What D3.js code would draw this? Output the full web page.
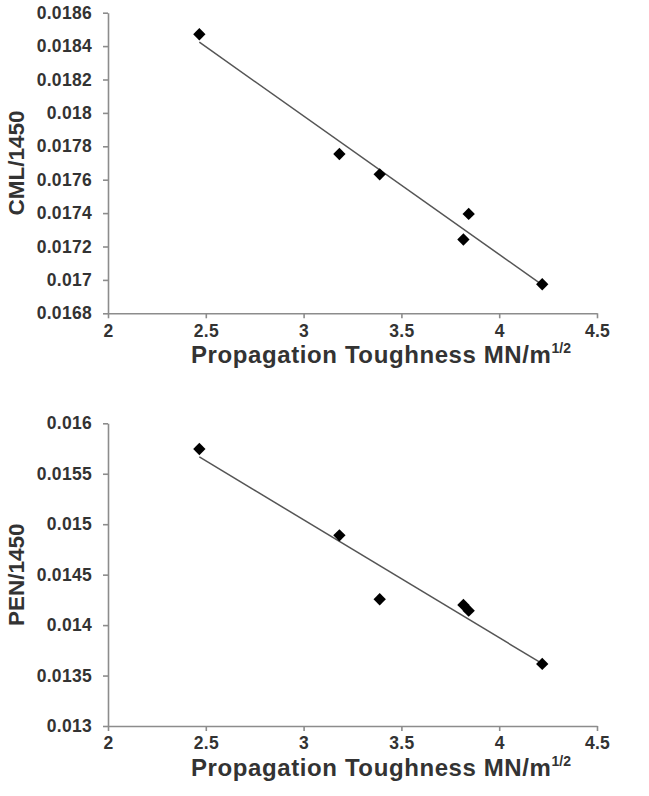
<!DOCTYPE html>
<html><head><meta charset="utf-8">
<script src="https://cdn.jsdelivr.net/npm/d3@7"></script>
<style>html,body{margin:0;padding:0;background:#fff;}svg{display:block;}</style>
</head><body>
<svg id="c" width="649" height="796"></svg>
<script>
const toughness = [2.467, 3.183, 3.389, 3.844, 3.817, 4.220];
const cml = [0.018471, 0.017754, 0.017632, 0.017395, 0.017242, 0.016974];
const pen = [0.015745, 0.01489, 0.014256, 0.014143, 0.0142, 0.013615];
const xTicks = [2, 2.5, 3, 3.5, 4, 4.5];
const xTickLabels = ["2", "2.5", "3", "3.5", "4", "4.5"];
const cmlTicks = [0.0168, 0.017, 0.0172, 0.0174, 0.0176, 0.0178, 0.018, 0.0182, 0.0184, 0.0186];
const cmlTickLabels = ["0.0168", "0.017", "0.0172", "0.0174", "0.0176", "0.0178", "0.018", "0.0182", "0.0184", "0.0186"];
const penTicks = [0.013, 0.0135, 0.014, 0.0145, 0.015, 0.0155, 0.016];
const penTickLabels = ["0.013", "0.0135", "0.014", "0.0145", "0.015", "0.0155", "0.016"];

const svg = d3.select("#c");
const font = "'Liberation Sans', Arial, sans-serif";
const axisColor = "#8c8c8c";
const textColor = "#333333";

function panel(opts) {
  const g = svg.append("g");
  const x = d3.scaleLinear().domain([2, 4.5]).range([108, 597]);
  const y = d3.scaleLinear().domain(opts.yDomain).range([opts.yBottom, opts.yTop]);

  const ya = g.append("g").attr("transform", "translate(108,0)")
    .call(d3.axisLeft(y).tickValues(opts.yTicks).tickFormat((d, i) => opts.yLabels[i]).tickSize(5).tickSizeOuter(0).tickPadding(11));
  const xa = g.append("g").attr("transform", `translate(0,${opts.yBottom})`)
    .call(d3.axisBottom(x).tickValues(xTicks).tickFormat((d, i) => xTickLabels[i]).tickSize(5).tickSizeOuter(0).tickPadding(6));
  [ya, xa].forEach(a => {
    a.select(".domain").attr("stroke", axisColor).attr("stroke-width", 1.6);
    a.selectAll(".tick line").attr("stroke", axisColor).attr("stroke-width", 1.6);
    a.selectAll(".tick text").attr("fill", textColor).attr("font-family", font)
      .attr("font-size", 17.5).attr("font-weight", "bold").attr("letter-spacing", 0.3);
  });

  // Linear trendline (least squares over the data)
  const ys = opts.values;
  const n = toughness.length;
  const mx = d3.mean(toughness), my = d3.mean(ys);
  let sxy = 0, sxx = 0;
  for (let i = 0; i < n; i++) { sxy += (toughness[i] - mx) * (ys[i] - my); sxx += (toughness[i] - mx) ** 2; }
  const b = sxy / sxx, a0 = my - b * mx;
  const x0 = d3.min(toughness), x1 = d3.max(toughness);
  g.append("line")
    .attr("x1", x(x0)).attr("y1", y(a0 + b * x0))
    .attr("x2", x(x1)).attr("y2", y(a0 + b * x1))
    .attr("stroke", "#555555").attr("stroke-width", 1.5);

  const sym = d3.symbol().type(d3.symbolSquare).size(76);
  g.selectAll("path.pt").data(toughness.map((t, i) => [t, ys[i]])).join("path")
    .attr("class", "pt")
    .attr("d", sym)
    .attr("transform", d => `translate(${x(d[0])},${y(d[1])}) rotate(45)`)
    .attr("fill", "#000");

  const xt = g.append("text").attr("x", 381).attr("y", opts.yBottom + 50)
    .attr("text-anchor", "middle").attr("font-family", font).attr("font-size", 24)
    .attr("font-weight", "bold").attr("fill", textColor).attr("letter-spacing", 0.6);
  xt.append("tspan").text("Propagation Toughness MN/m");
  xt.append("tspan").attr("font-size", 14).attr("dy", -10).attr("letter-spacing", 0).text("1/2");

  g.append("text").attr("transform", `translate(24,${(opts.yTop + opts.yBottom) / 2}) rotate(-90)`)
    .attr("text-anchor", "middle").attr("font-family", font).attr("font-size", 22.5)
    .attr("font-weight", "bold").attr("fill", textColor).text(opts.yTitle);
}

panel({ yDomain: [0.0168, 0.0186], yTop: 12.7, yBottom: 313.3, yTicks: cmlTicks, yLabels: cmlTickLabels, values: cml, yTitle: "CML/1450" });
panel({ yDomain: [0.013, 0.016], yTop: 423.3, yBottom: 726, yTicks: penTicks, yLabels: penTickLabels, values: pen, yTitle: "PEN/1450" });
</script>
</body></html>
